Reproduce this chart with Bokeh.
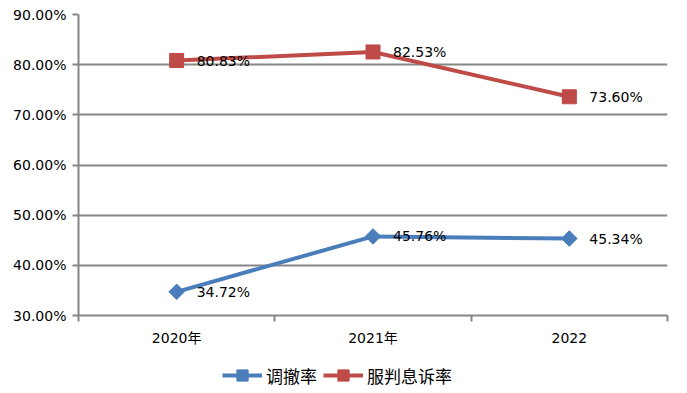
import math
from bokeh.plotting import figure
from bokeh.layouts import column
from bokeh.models import (Range1d, LinearAxis, FixedTicker, PrintfTickFormatter,
                          ColumnDataSource, Legend, LegendItem)
from bokeh.embed import file_html
from bokeh.resources import INLINE
from bokeh.core.properties import value

categories = ["2020年", "2021年", "2022"]
tiaoche = [34.72, 45.76, 45.34]
fupan = [80.83, 82.53, 73.60]
y_ticks = [30, 40, 50, 60, 70, 80, 90]
series_names = ["调撤率", "服判息诉率"]

BLUE = "#4A7EBB"
RED = "#BE4B48"
GRAY = "#868686"
FONT = "'DejaVu Sans', 'Noto Sans CJK SC'"

n = len(categories)
centers = [i + 0.5 for i in range(n)]   # category centre positions on the numeric scale
edges = list(range(n + 1))              # category boundaries

src = ColumnDataSource(dict(
    x=centers,
    t=tiaoche, f=fupan,
    tl=[f"{v:.2f}%" for v in tiaoche],
    fl=[f"{v:.2f}%" for v in fupan],
))

p = figure(width=671, height=352, x_range=Range1d(0, n), y_range=Range1d(y_ticks[0], y_ticks[-1]),
           output_backend="svg", toolbar_location=None, x_axis_location=None,
           min_border_left=78, min_border_right=4, min_border_top=14, min_border_bottom=37)
p.outline_line_color = None
p.xgrid.grid_line_color = None
p.ygrid.grid_line_color = GRAY
p.ygrid.grid_line_width = 2
p.ygrid.ticker = FixedTicker(ticks=y_ticks)

ya = p.yaxis[0]
ya.ticker = FixedTicker(ticks=y_ticks)
ya.formatter = PrintfTickFormatter(format="%.2f%%")
ya.axis_line_color = GRAY
ya.axis_line_width = 2
ya.major_tick_line_color = GRAY
ya.major_tick_line_width = 2
ya.major_tick_out = 6
ya.major_tick_in = 0
ya.minor_tick_line_color = None
ya.major_label_text_font = FONT
ya.major_label_text_font_size = "14px"
ya.major_label_text_color = "black"
ya.major_label_standoff = 6

edge_axis = LinearAxis(ticker=FixedTicker(ticks=edges),
                       major_label_overrides={e: " " for e in edges})
edge_axis.major_label_text_font_size = "2px"
edge_axis.major_label_text_alpha = 0
edge_axis.major_label_standoff = 0
edge_axis.axis_line_color = GRAY
edge_axis.axis_line_width = 2
edge_axis.major_tick_line_color = GRAY
edge_axis.major_tick_line_width = 2
edge_axis.major_tick_out = 6
edge_axis.major_tick_in = 0
edge_axis.minor_tick_line_color = None
p.add_layout(edge_axis, "below")

cat_axis = LinearAxis(ticker=FixedTicker(ticks=centers),
                      major_label_overrides={c: lab for c, lab in zip(centers, categories)})
cat_axis.axis_line_color = None
cat_axis.major_tick_line_color = None
cat_axis.minor_tick_line_color = None
cat_axis.major_tick_out = 0
cat_axis.major_label_standoff = 8
cat_axis.major_label_text_font = FONT
cat_axis.major_label_text_font_size = "14px"
cat_axis.major_label_text_color = "black"
p.add_layout(cat_axis, "below")

p.line("x", "t", source=src, line_color=BLUE, line_width=4)
p.scatter("x", "t", source=src, marker="square", angle=math.pi / 4, size=11,
          fill_color=BLUE, line_color=BLUE)
p.line("x", "f", source=src, line_color=RED, line_width=4)
p.scatter("x", "f", source=src, marker="square", size=14, fill_color=RED, line_color=RED)

for col, ycol in (("tl", "t"), ("fl", "f")):
    p.text("x", ycol, text=col, source=src, x_offset=20, text_baseline="middle", text_align="left",
           text_font=value(FONT), text_font_size="14px", text_color="black")

# legend strip below the chart (its glyphs use the same data, kept outside its view)
lf = figure(width=671, height=38, output_backend="svg", toolbar_location=None,
            x_range=Range1d(-20, -19), y_range=Range1d(-20, -19),
            x_axis_location=None, y_axis_location=None,
            min_border_left=0, min_border_right=0, min_border_top=0, min_border_bottom=0)
lf.outline_line_color = None
lf.xgrid.grid_line_color = None
lf.ygrid.grid_line_color = None
r1 = lf.line("x", "t", source=src, line_color=BLUE, line_width=4)
s1 = lf.scatter("x", "t", source=src, marker="square", angle=math.pi / 4, size=11,
                fill_color=BLUE, line_color=BLUE)
r2 = lf.line("x", "f", source=src, line_color=RED, line_width=4)
s2 = lf.scatter("x", "f", source=src, marker="square", size=14, fill_color=RED, line_color=RED)

legend = Legend(items=[LegendItem(label=series_names[0], renderers=[r1, s1]),
                       LegendItem(label=series_names[1], renderers=[r2, s2])],
                orientation="horizontal", location=(144, 1), border_line_color=None,
                background_fill_alpha=0, glyph_width=40, glyph_height=28, label_standoff=4,
                spacing=6, margin=0, padding=0,
                label_text_font="Noto Sans CJK SC", label_text_font_size="17px",
                label_text_color="black")
lf.add_layout(legend, "center")

layout = column(p, lf, spacing=0)
open("out.html", "w").write(file_html(layout, INLINE))
